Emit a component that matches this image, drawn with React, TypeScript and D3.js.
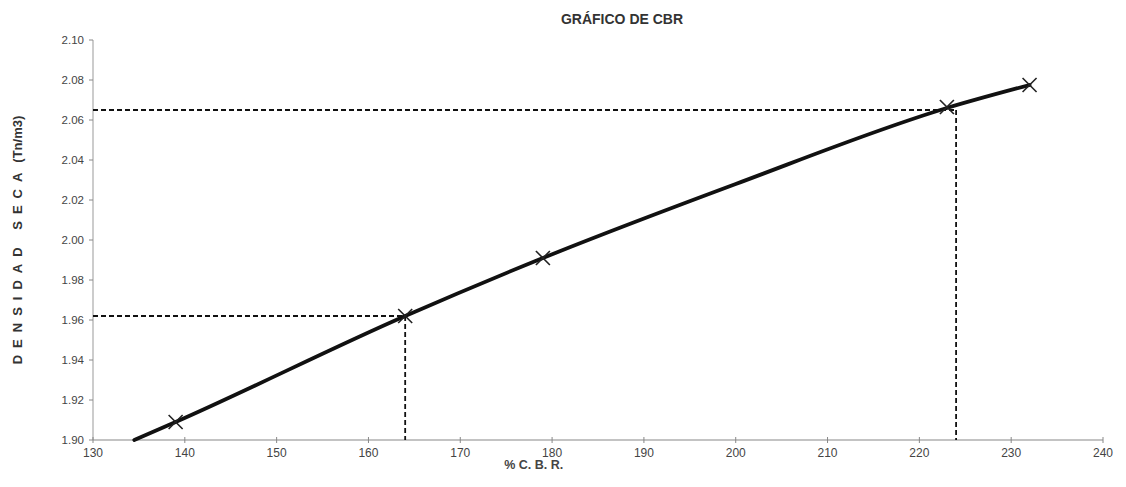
import React from "react";
import * as d3 from "d3";

const title = "GRÁFICO DE CBR";
const xLabel = "% C. B. R.";
const yLabelSpaced = "DENSIDAD SECA";
const yLabelUnit = "(Tn/m3)";

const xTicks = [130, 140, 150, 160, 170, 180, 190, 200, 210, 220, 230, 240];
const yTicks = [1.9, 1.92, 1.94, 1.96, 1.98, 2.0, 2.02, 2.04, 2.06, 2.08, 2.1];

// fitted curve
const curveCbr = [134.5, 139, 164, 179, 200, 223, 232];
const curveDens = [1.9, 1.909, 1.962, 1.991, 2.028, 2.066, 2.0775];

// measured points (X markers)
const pointCbr = [139, 164, 179, 223, 232];
const pointDens = [1.909, 1.962, 1.991, 2.0665, 2.0775];

// dashed reading lines
const readCbr = [164, 224];
const readDens = [1.962, 2.065];

const W = 1126;
const H = 487;
const left = 93;
const right = 1103;
const top = 40;
const bottom = 440;

export default function App() {
  const x = d3.scaleLinear().domain([130, 240]).range([left, right]);
  const y = d3.scaleLinear().domain([1.9, 2.1]).range([bottom, top]);
  const line = d3
    .line<number>()
    .x((_, i) => x(curveCbr[i]))
    .y((d) => y(d))
    .curve(d3.curveMonotoneX);
  const font = "'Liberation Sans', Arial, sans-serif";
  const yMid = 240;

  return (
    <svg
      width={W}
      height={H}
      style={{ position: "absolute", left: 0, top: 0, background: "#fff" }}
      fontFamily={font}
    >
      <rect x={0} y={0} width={W} height={H} fill="#fff" />
      <text x={622} y={24} textAnchor="middle" fontSize={14} fontWeight="bold" fill="#333">
        {title}
      </text>

      {/* axes */}
      <line x1={left} x2={left} y1={top} y2={bottom} stroke="#999" strokeWidth={1} />
      <line x1={left} x2={right} y1={bottom} y2={bottom} stroke="#888" strokeWidth={1.2} />
      {yTicks.map((t) => (
        <g key={"y" + t}>
          <line x1={left - 4} x2={left} y1={y(t)} y2={y(t)} stroke="#888" />
          <text x={left - 9} y={y(t) + 4} textAnchor="end" fontSize={11.5} fill="#444">
            {t.toFixed(2)}
          </text>
        </g>
      ))}
      {xTicks.map((t) => (
        <g key={"x" + t}>
          <line x1={x(t)} x2={x(t)} y1={bottom - 3} y2={bottom + 3} stroke="#888" />
          <text x={x(t)} y={bottom + 17} textAnchor="middle" fontSize={12} fill="#444">
            {t}
          </text>
        </g>
      ))}
      <text x={x(178)} y={bottom + 29} textAnchor="middle" fontSize={12.5} fontWeight="bold" fill="#444">
        {xLabel}
      </text>
      <text
        transform={`translate(22,${yMid}) rotate(-90)`}
        textAnchor="middle"
        fontSize={13}
        fontWeight="bold"
        fill="#333"
      >
        <tspan letterSpacing={7}>{yLabelSpaced}</tspan>
        <tspan dx={3}>{yLabelUnit}</tspan>
      </text>

      {/* dashed reading lines */}
      {readCbr.map((c, i) => (
        <g key={"r" + i}>
          <line
            x1={left}
            x2={x(c)}
            y1={y(readDens[i])}
            y2={y(readDens[i])}
            stroke="#111"
            strokeWidth={1.8}
            strokeDasharray="5,3"
          />
          <line
            x1={x(c)}
            x2={x(c)}
            y1={y(readDens[i])}
            y2={bottom}
            stroke="#111"
            strokeWidth={1.8}
            strokeDasharray="5,3"
          />
        </g>
      ))}

      {/* curve */}
      <path d={line(curveDens) || ""} fill="none" stroke="#111" strokeWidth={3.8} strokeLinecap="round" />

      {/* markers */}
      {pointCbr.map((c, i) => {
        const cx = x(c);
        const cy = y(pointDens[i]);
        const s = 7;
        return (
          <g key={"m" + i} stroke="#222" strokeWidth={1.6}>
            <line x1={cx - s} x2={cx + s} y1={cy - s} y2={cy + s} />
            <line x1={cx - s} x2={cx + s} y1={cy + s} y2={cy - s} />
          </g>
        );
      })}
    </svg>
  );
}
